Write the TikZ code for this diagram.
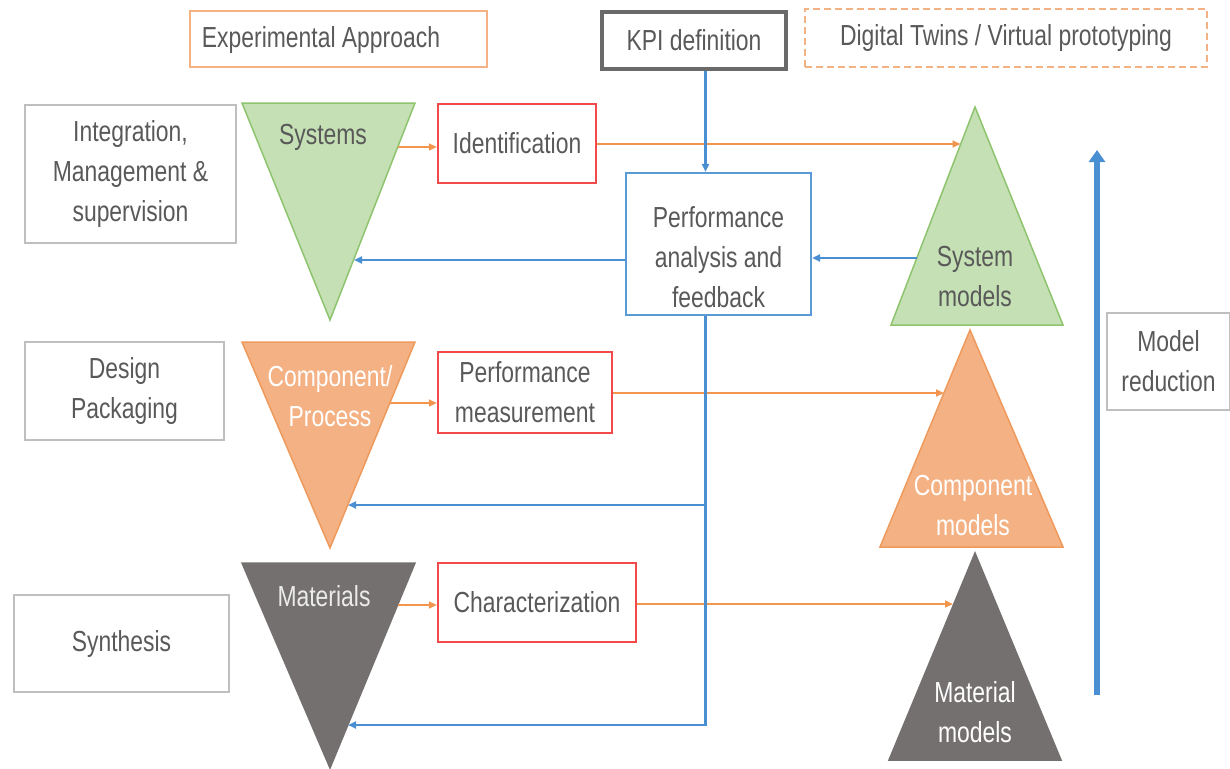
\documentclass[tikz,border=0pt]{standalone}
\usepackage{fontspec}
\newfontfamily\lab{Liberation Sans}[FakeStretch=0.79]
\usetikzlibrary{arrows.meta}
\definecolor{txt}{HTML}{595959}
\definecolor{orgL}{HTML}{F4B183}
\definecolor{orgA}{HTML}{F2954F}
\definecolor{redB}{HTML}{F24A4A}
\definecolor{grayB}{HTML}{BFBFBF}
\definecolor{grayD}{HTML}{6A6A6A}
\definecolor{blueA}{HTML}{4A8FD2}
\definecolor{blueB}{HTML}{5B9BD5}
\definecolor{greenF}{HTML}{C5E0B4}
\definecolor{greenD}{HTML}{8FC46E}
\definecolor{orgF}{HTML}{F4B183}
\definecolor{orgD}{HTML}{EE9A5C}
\definecolor{matF}{HTML}{757070}
\begin{document}
\begin{tikzpicture}[x=1pt,y=-1pt,
  every node/.style={font=\lab\fontsize{29}{40}\selectfont, text=txt, align=center, inner sep=0pt},
  box/.style={draw, line width=2.4pt, minimum width=#1},
  graybox/.style={draw=grayB, line width=2.2pt},
  redbox/.style={draw=redB, line width=2.4pt},
  oarrow/.style={draw=orgA, line width=2pt, -{Triangle[length=8pt,width=7pt]}},
  barrow/.style={draw=blueA, line width=2.2pt, -{Triangle[length=8pt,width=7pt]}},
  bline/.style={draw=blueA, line width=2.2pt},
  tri/.style={line width=1.5pt}
]
\useasboundingbox (0,0) rectangle (1230,768);

% top boxes
\node[draw=orgL, line width=2.4pt, minimum width=297pt, minimum height=56pt] (exp) at (338.5,39) {};
\node (expt) at (321,40) {Experimental Approach};
\node[draw=grayD, line width=3.2pt, minimum width=184pt, minimum height=57pt] (kpi) at (694,40.5) {KPI definition};
\node[draw=orgL, line width=2.4pt, dashed, dash pattern=on 7pt off 4pt, minimum width=402pt, minimum height=58pt] (dt) at (1006,38) {Digital Twins / Virtual prototyping};

% left boxes
\node[graybox, minimum width=211pt, minimum height=138pt] (integ) at (130.5,174) {Integration,\\Management \&\\supervision};
\node[graybox, minimum width=199pt, minimum height=98pt] (design) at (124.5,391) {Design\\Packaging};
\node[graybox, minimum width=215pt, minimum height=97pt] (synth) at (121.5,643.5) {Synthesis};

% left triangles
\path[tri, fill=greenF, draw=greenD] (242,103) -- (415,103) -- (330,320) -- cycle;
\node (sys) at (323,137) {Systems};
\path[tri, fill=orgF, draw=orgD] (242,342) -- (415,342) -- (330,548) -- cycle;
\node[text=white] (comp) at (330,396) {Component/\\Process};
\path[tri, fill=matF, draw=matF] (242,563) -- (415,563) -- (330,768) -- cycle;
\node[text=white!92!black] (mat) at (324,596) {Materials};

% red boxes
\node[redbox, minimum width=158pt, minimum height=79pt] (ident) at (517,143.5) {Identification};
\node[redbox, minimum width=174pt, minimum height=81pt] (pmeas) at (525,392.5) {Performance\\measurement};
\node[redbox, minimum width=198pt, minimum height=79pt] (charac) at (537,602.5) {Characterization};

% performance analysis box
\node[draw=blueB, line width=2.2pt, minimum width=185pt, minimum height=142pt] (perf) at (718.5,244) {};
\node (perft) at (718.5,257) {Performance\\analysis and\\feedback};

% right triangles
\path[tri, fill=greenF, draw=greenD] (975,107) -- (1063,325) -- (891,325) -- cycle;
\node (smod) at (975,277) {System\\models};
\path[tri, fill=orgF, draw=orgD] (970,330) -- (1063,547) -- (880,547) -- cycle;
\node[text=white] (cmod) at (973,506) {Component\\models};
\path[tri, fill=matF, draw=matF] (975,553) -- (1061,760) -- (889,760) -- cycle;
\node[text=white] (mmod) at (975,712) {Material\\models};

% model reduction
\node[graybox, minimum width=123pt, minimum height=97pt] (mred) at (1168.5,361.5) {Model\\reduction};

% edge coordinates
\coordinate (sysR) at (398,147);
\coordinate (sysB) at (354,260);
\coordinate (compR) at (390,403);
\coordinate (compB) at (348,505);
\coordinate (matR) at (398,605);
\coordinate (matB) at (348,725);
\coordinate (smL) at (960.5,144);
\coordinate (smB) at (917,258);
\coordinate (cmL) at (944,393);
\coordinate (mmL) at (953,604);
\coordinate (vline) at (705.5,0);
\coordinate (redB) at (1097,695);
\coordinate (redT) at (1097,150);

% orange connectors
\draw[oarrow] (sysR) -- (sysR -| ident.west);
\draw[oarrow] (ident.east |- smL) -- (smL);
\draw[oarrow] (compR) -- (compR -| pmeas.west);
\draw[oarrow] (pmeas.east |- cmL) -- (cmL);
\draw[oarrow] (matR) -- (matR -| charac.west);
\draw[oarrow] (charac.east |- mmL) -- (mmL);

% blue connectors
\draw[barrow] (kpi.south -| vline) -- (perf.north -| vline);
\draw[barrow] (perf.west |- sysB) -- (sysB);
\draw[barrow] (smB) -- (smB -| perf.east);
\draw[barrow] (perf.south -| vline) -- (vline |- matB) -- (matB);
\draw[barrow] (vline |- compB) -- (compB);

% model reduction arrow
\draw[draw=blueA, line width=6pt, -{Triangle[length=12pt,width=16pt]}] (redB) -- (redT);
\end{tikzpicture}
\end{document}
